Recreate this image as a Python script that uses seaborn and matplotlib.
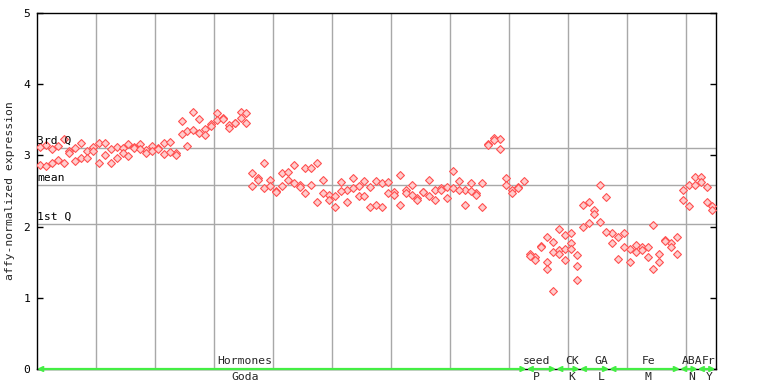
import numpy as np
import pandas as pd
import matplotlib
matplotlib.use("Agg")
import matplotlib.pyplot as plt
import seaborn as sns

# ---------------- data ----------------
rep1 = [3.12, 3.15, 3.09, 3.13, 3.23, 3.06, 3.11, 3.18, 3.06, 3.12,
        3.17, 3.17, 3.09, 3.12, 3.10, 3.16, 3.12, 3.16, 3.07, 3.13,
        3.10, 3.17, 3.19, 3.03, 3.48, 3.34, 3.61, 3.51, 3.37, 3.44,
        3.59, 3.53, 3.42, 3.46, 3.61, 3.59, 2.75, 2.68, 2.90, 2.65,
        2.50, 2.75, 2.76, 2.87, 2.59, 2.83, 2.83, 2.89, 2.65, 2.45,
        2.43, 2.62, 2.51, 2.68, 2.57, 2.64, 2.55, 2.64, 2.61, 2.62,
        2.48, 2.73, 2.52, 2.59, 2.40, 2.49, 2.65, 2.51, 2.54, 2.55,
        2.78, 2.64, 2.52, 2.61, 2.47, 2.61, 3.16, 3.25, 3.23, 2.68,
        2.52, 2.55, 2.64, 1.62, 1.57, 1.73, 1.85, 1.78, 1.96, 1.88,
        1.91, 1.60, 2.31, 2.34, 2.24, 2.58, 2.41, 1.91, 1.85, 1.91,
        1.69, 1.74, 1.72, 1.72, 2.02, 1.62, 1.81, 1.77, 1.86, 2.51,
        2.58, 2.70, 2.70, 2.55, 2.29]
rep2 = [2.87, 2.85, 2.89, 2.93, 2.89, 3.03, 2.92, 2.96, 2.97, 3.06,
        2.89, 3.01, 2.89, 2.97, 3.04, 2.99, 3.10, 3.09, 3.04, 3.06,
        3.09, 3.02, 3.05, 3.01, 3.30, 3.13, 3.35, 3.31, 3.28, 3.41,
        3.50, 3.51, 3.38, 3.45, 3.53, 3.46, 2.57, 2.65, 2.54, 2.57,
        2.49, 2.57, 2.66, 2.61, 2.55, 2.47, 2.58, 2.34, 2.47, 2.38,
        2.27, 2.50, 2.34, 2.54, 2.43, 2.43, 2.28, 2.30, 2.28, 2.47,
        2.44, 2.30, 2.47, 2.44, 2.37, 2.48, 2.43, 2.38, 2.51, 2.40,
        2.54, 2.52, 2.31, 2.50, 2.45, 2.27, 3.15, 3.22, 3.09, 2.59,
        2.47, 2.54, None, 1.59, 1.53, 1.72, 1.50, 1.64, 1.67, 1.69,
        1.77, 1.44, 2.00, 2.05, 2.17, 2.06, 1.93, 1.77, 1.55, 1.72,
        1.50, 1.64, 1.67, 1.58, 1.41, 1.50, 1.80, 1.72, 1.62, 2.38,
        2.29, 2.59, 2.62, 2.34, 2.23]
rep3_idx = [86, 87, 88, 89, 90, 91]
rep3 = [1.40, 1.09, 1.61, 1.53, 1.69, 1.25]

group_names = ["Hormones", "seed", "CK", "GA", "Fe", "ABA", "Fr"]
group_subs = ["Goda", "P", "K", "L", "M", "N", "Y"]
group_start = [0, 83, 88, 92, 97, 109, 112]
group_end = [82, 87, 91, 96, 108, 111, 114]

q3_val = 3.10
mean_val = 2.58
q1_val = 2.04

# ---------------- layout ----------------
label_pos = [34.7, 84.2, 90.2, 95.1, 103.1, 110.5, 113.4]

rows = []
for i, v in enumerate(rep1):
    rows.append((i, v))
for i, v in enumerate(rep2):
    if v is not None:
        rows.append((i, v))
for i, v in zip(rep3_idx, rep3):
    rows.append((i, v))
df = pd.DataFrame(rows, columns=["sample", "value"])

sns.set_style("white")
plt.rcParams["font.family"] = ["DejaVu Sans Mono", "DejaVu Sans"]
FS = 8.2

fig = plt.figure(figsize=(7.68, 3.84), dpi=100)
ax = fig.add_axes([37/768, 15/384, (716-37)/768, (369-13)/384])

# grid
for gx in np.arange(9.5, 114, 10):
    ax.axvline(gx, color="#a8a8a8", lw=1.0, zorder=1)
for gy in (q3_val, mean_val, q1_val):
    ax.axhline(gy, color="#a8a8a8", lw=1.0, zorder=1)

sns.scatterplot(data=df, x="sample", y="value", ax=ax, marker="D", s=16,
                color="#ffcccc", edgecolor="#ff5050", linewidth=0.8,
                zorder=3, legend=False)

ax.set_xlim(-0.5, 114.6)
ax.set_ylim(0, 5)
ax.set_xticks([])
ax.set_yticks([0, 1, 2, 3, 4, 5])
ax.tick_params(axis="y", direction="in", length=4.3, width=1, left=True,
               right=True, labelsize=FS, pad=5, colors="black")
for sp in ax.spines.values():
    sp.set_color("black")
    sp.set_linewidth(1.0)
ax.set_xlabel("")
ax.set_ylabel("affy-normalized expression", fontsize=FS, labelpad=6)

# quartile labels
for txt, val in (("3rd Q", q3_val), ("mean", mean_val), ("1st Q", q1_val)):
    ax.annotate(txt, xy=(-0.45, val), xytext=(0, 1.5), textcoords="offset points",
                ha="left", va="bottom", fontsize=FS, color="black", zorder=4)

# group bars along x axis
green = "#44ee44"
for s0, e0, nm, sub, lp in zip(group_start, group_end, group_names, group_subs, label_pos):
    ax.annotate("", xy=(e0 + 0.5, 0), xytext=(s0 - 0.5, 0),
                arrowprops=dict(arrowstyle="<->", color=green, lw=1.6,
                                mutation_scale=7, shrinkA=0, shrinkB=0),
                annotation_clip=False, zorder=5)
    ax.annotate(nm, xy=(lp, 0), xytext=(0, 2), textcoords="offset points",
                ha="center", va="bottom", fontsize=FS, annotation_clip=False)
    ax.annotate(sub, xy=(lp, 0), xytext=(0, -2.5), textcoords="offset points",
                ha="center", va="top", fontsize=FS, annotation_clip=False)

fig.savefig("out.png", dpi=100)
